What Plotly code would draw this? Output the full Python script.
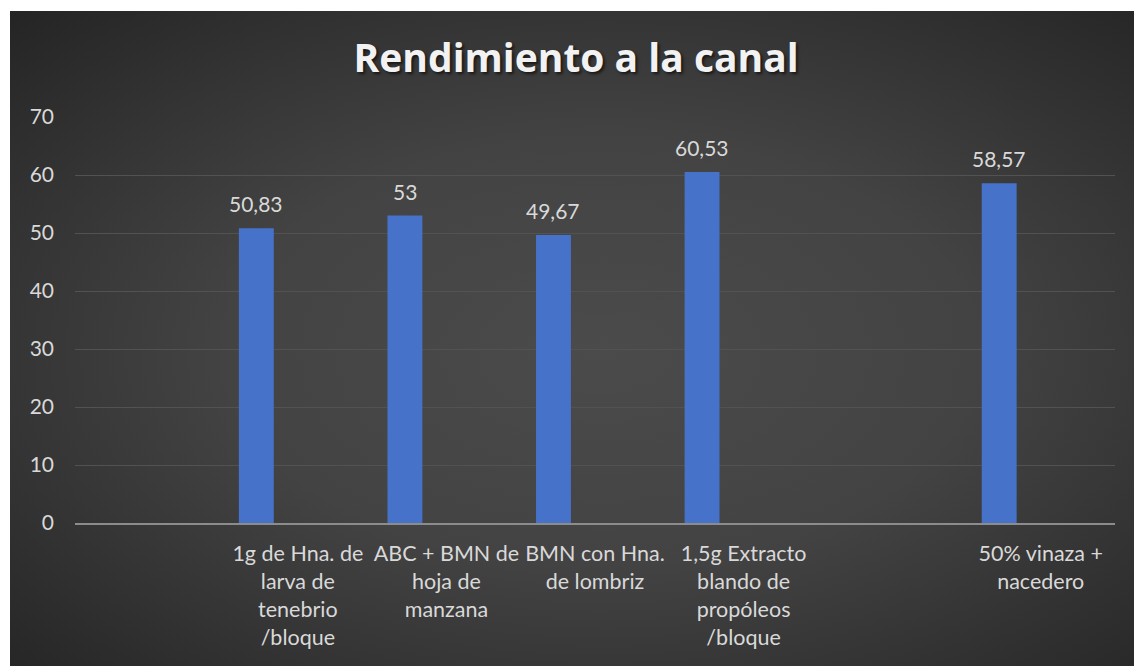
import base64

import plotly.graph_objects as go

_FONT_FAMILY = "Lato, Open Sans, sans-serif"
_TEXT_COLOR = "#d9d9d9"

categorias = [
    "",
    "1g de Hna. de<br>larva de<br>tenebrio<br>/bloque",
    "ABC + BMN de<br>hoja de<br>manzana",
    "BMN con Hna.<br>de lombriz",
    "1,5g Extracto<br>blando de<br>propóleos<br>/bloque",
    "",
    "50% vinaza +<br>nacedero",
]
rendimiento = [None, 50.83, 53, 49.67, 60.53, None, 58.57]
y_ticks = [0, 10, 20, 30, 40, 50, 60, 70]

posiciones = list(range(len(categorias)))

BAR_WIDTH = 0.235
BAR_OFFSET = -0.397
PLOT_W = 1040

# fondo con degradado radial (oscuro en bordes)
_svg = (
    '<svg xmlns="http://www.w3.org/2000/svg" width="1160" height="655" '
    'preserveAspectRatio="none">'
    '<defs><radialGradient id="g" cx="51%" cy="52%" r="72%">'
    '<stop offset="0" stop-color="#4b4b4b"/>'
    '<stop offset="0.45" stop-color="#434343"/>'
    '<stop offset="1" stop-color="#252525"/>'
    "</radialGradient></defs>"
    '<rect width="1160" height="655" fill="url(#g)"/></svg>'
)
_bg = "data:image/svg+xml;base64," + base64.b64encode(_svg.encode()).decode()

fig = go.Figure()
fig.add_trace(
    go.Bar(
        x=posiciones,
        y=rendimiento,
        width=BAR_WIDTH,
        offset=BAR_OFFSET,
        marker=dict(color="#4672c9", line=dict(width=0)),
        hovertemplate="%{y}<extra></extra>",
    )
)

# etiquetas de valor sobre cada barra
for pos, val in zip(posiciones, rendimiento):
    if val is None:
        continue
    fig.add_annotation(
        x=pos,
        y=val,
        text=f"{val:g}".replace(".", ","),
        showarrow=False,
        xanchor="center",
        yanchor="bottom",
        xshift=(BAR_OFFSET + BAR_WIDTH / 2) * PLOT_W / len(categorias),
        yshift=10,
        font=dict(color=_TEXT_COLOR, size=21, family=_FONT_FAMILY),
    )

fig.update_layout(
    width=1134,
    height=666,
    margin=dict(l=75, r=19, t=117, b=143),
    paper_bgcolor="white",
    plot_bgcolor="rgba(0,0,0,0)",
    font=dict(family=_FONT_FAMILY, color=_TEXT_COLOR, size=21),
    showlegend=False,
    title=dict(
        text="<b>Rendimiento a la canal</b>",
        x=0.508,
        xanchor="center",
        y=1 - 58 / 666,
        yanchor="middle",
        font=dict(
            size=39,
            color="#f2f2f2",
            family="Open Sans, sans-serif",
            shadow="2px 2px 3px rgba(0,0,0,0.6)",
        ),
    ),
    images=[
        dict(
            source=_bg,
            xref="paper",
            yref="paper",
            x=-65 / 1040,
            y=1 + 106 / 406,
            sizex=1160 / 1040,
            sizey=655 / 406,
            xanchor="left",
            yanchor="top",
            sizing="stretch",
            layer="below",
        )
    ],
)
fig.update_xaxes(
    range=[-0.5, len(categorias) - 0.5],
    tickvals=posiciones,
    ticktext=categorias,
    tickangle=0,
    showgrid=False,
    showline=True,
    linecolor="#8c8c8c",
    linewidth=2,
    ticks="",
    ticklabelstandoff=10,
    tickfont=dict(size=21.5, color=_TEXT_COLOR),
)
fig.update_yaxes(
    range=[0, 70],
    tickvals=y_ticks,
    gridcolor="#525252",
    gridwidth=1,
    zeroline=False,
    showline=False,
    ticks="",
    ticklabelstandoff=20,
    tickfont=dict(size=21, color=_TEXT_COLOR),
)

fig.write_html(
    "out.html",
    config=dict(displayModeBar=False),
    post_script="document.body.style.margin='0';document.body.style.overflow='hidden';",
)
